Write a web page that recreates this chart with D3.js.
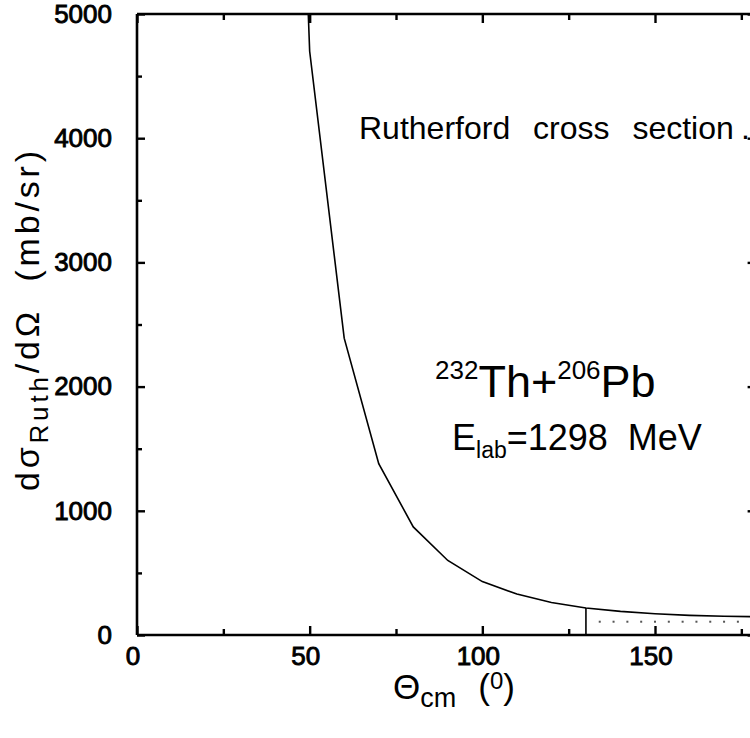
<!DOCTYPE html>
<html>
<head>
<meta charset="utf-8">
<script src="https://cdn.jsdelivr.net/npm/d3@7"></script>
<style>
  body { margin: 0; background: #fff; }
  svg { display: block; }
  text { font-family: "Liberation Sans", Arial, sans-serif; fill: #000; }
  .tick text { font-size: 26px; stroke: #000; stroke-width: 0.9px; }
</style>
</head>
<body>
<svg width="750" height="738"></svg>
<script>
// Rutherford cross section
var theta = [49.6, 50, 60, 70, 80, 90, 100, 110, 120, 130, 140, 150, 160, 170, 180];
var sigma = [5000, 4700, 2390, 1380, 870, 600, 430, 330, 262, 218, 190, 171, 158, 151, 147];

// dotted band between 130 and 180 deg
var cutTheta = 130;
var dotTheta = [134, 138, 142, 146, 150, 154, 158, 162, 166, 170, 174, 178];
var dotSigma = 107;

var xMajor = [0, 50, 100, 150];
var xMinor = [25, 75, 125, 175];
var yMajor = [0, 1000, 2000, 3000, 4000, 5000];
var yMinor = [500, 1500, 2500, 3500, 4500];

var svg = d3.select("svg");

var x = d3.scaleLinear().domain([0, 180]).range([137, 758.6]);
var y = d3.scaleLinear().domain([0, 5000]).range([635, 14]);

var g = svg.append("g");

// frame lines
g.append("line").attr("x1", x(0)).attr("x2", x(180)).attr("y1", y(0)).attr("y2", y(0))
  .attr("stroke", "#000").attr("stroke-width", 2.6);
g.append("line").attr("x1", x(0)).attr("x2", x(180)).attr("y1", y(5000)).attr("y2", y(5000))
  .attr("stroke", "#000").attr("stroke-width", 2.6);
g.append("line").attr("x1", x(0)).attr("x2", x(0)).attr("y1", y(0)).attr("y2", y(5000))
  .attr("stroke", "#000").attr("stroke-width", 2.6);
g.append("line").attr("x1", x(180)).attr("x2", x(180)).attr("y1", y(0)).attr("y2", y(5000))
  .attr("stroke", "#000").attr("stroke-width", 2.6);

function styleAxis(sel) {
  sel.select(".domain").remove();
  sel.selectAll(".tick line").attr("stroke", "#000").attr("stroke-width", 2.4);
}

// bottom
g.append("g").attr("transform", "translate(0," + y(0) + ")")
  .call(d3.axisBottom(x).tickValues(xMajor).tickSizeInner(-9).tickPadding(12).tickFormat(d3.format("d")))
  .call(styleAxis)
  .selectAll("text").attr("dx", -4.5);
g.append("g").attr("transform", "translate(0," + y(0) + ")")
  .call(d3.axisBottom(x).tickValues(xMinor).tickSizeInner(-6).tickFormat(""))
  .call(styleAxis);

// top
g.append("g").attr("transform", "translate(0," + y(5000) + ")")
  .call(d3.axisTop(x).tickValues(xMajor).tickSizeInner(-9).tickFormat(""))
  .call(styleAxis);
g.append("g").attr("transform", "translate(0," + y(5000) + ")")
  .call(d3.axisTop(x).tickValues(xMinor).tickSizeInner(-6).tickFormat(""))
  .call(styleAxis);

// left
g.append("g").attr("transform", "translate(" + x(0) + ",0)")
  .call(d3.axisLeft(y).tickValues(yMajor).tickSizeInner(-8).tickPadding(25).tickFormat(d3.format("d")))
  .call(styleAxis);
g.append("g").attr("transform", "translate(" + x(0) + ",0)")
  .call(d3.axisLeft(y).tickValues(yMinor).tickSizeInner(-5).tickFormat(""))
  .call(styleAxis);

// right
g.append("g").attr("transform", "translate(" + x(180) + ",0)")
  .call(d3.axisRight(y).tickValues(yMajor).tickSizeInner(-11).tickFormat(""))
  .call(styleAxis);

// curve
var line = d3.line().x(function(d, i) { return x(theta[i]); }).y(function(d) { return y(d); });
g.append("path").datum(sigma).attr("d", line)
  .attr("fill", "none").attr("stroke", "#000").attr("stroke-width", 1.6);

// cut line at 130 deg
var cutSigma = sigma[theta.indexOf(cutTheta)];
g.append("line").attr("x1", x(cutTheta)).attr("x2", x(cutTheta))
  .attr("y1", y(0)).attr("y2", y(cutSigma))
  .attr("stroke", "#000").attr("stroke-width", 1.6);

g.selectAll("rect.dot").data(dotTheta).enter().append("rect")
  .attr("class", "dot")
  .attr("x", function(d) { return x(d) - 1; })
  .attr("y", y(dotSigma) - 1)
  .attr("width", 2).attr("height", 2)
  .attr("fill", "#555");

// annotations
var ruth = svg.append("text").attr("x", 359).attr("y", 139).attr("font-size", 32)
  .attr("word-spacing", 14);
ruth.append("tspan").text("Rutherford cross section");
ruth.append("tspan").attr("x", 741).text(".");

var reac = svg.append("text").attr("x", 435).attr("y", 397).attr("font-size", 45);
reac.append("tspan").attr("font-size", 26).attr("dy", -18).text("232");
reac.append("tspan").attr("dy", 18).text("Th+");
reac.append("tspan").attr("font-size", 26).attr("dy", -18).text("206");
reac.append("tspan").attr("dy", 18).text("Pb");

var en = svg.append("text").attr("x", 452).attr("y", 450).attr("font-size", 36);
en.append("tspan").text("E");
en.append("tspan").attr("font-size", 23).attr("dy", 8).text("lab");
en.append("tspan").attr("dy", -8).text("=1298\u00a0\u00a0MeV");

// x title
var xt = svg.append("text").attr("x", 393).attr("y", 699).attr("font-size", 35);
xt.append("tspan").text("\u0398");
xt.append("tspan").attr("font-size", 27).attr("dy", 8).text("cm");
xt.append("tspan").attr("dy", -8).attr("dx", 22).text("(");
xt.append("tspan").attr("font-size", 24).attr("dy", -10).text("0");
xt.append("tspan").attr("dy", 10).text(")");

// y title
var yt = svg.append("text").attr("transform", "translate(39,491) rotate(-90)").attr("font-size", 34)
  .attr("textLength", 340).attr("lengthAdjust", "spacing");
yt.append("tspan").text("d\u03c3");
yt.append("tspan").attr("font-size", 26).attr("dy", 9).text("Ruth");
yt.append("tspan").attr("dy", -9).text("/d\u03a9\u00a0\u00a0(mb/sr)");
</script>
</body>
</html>
